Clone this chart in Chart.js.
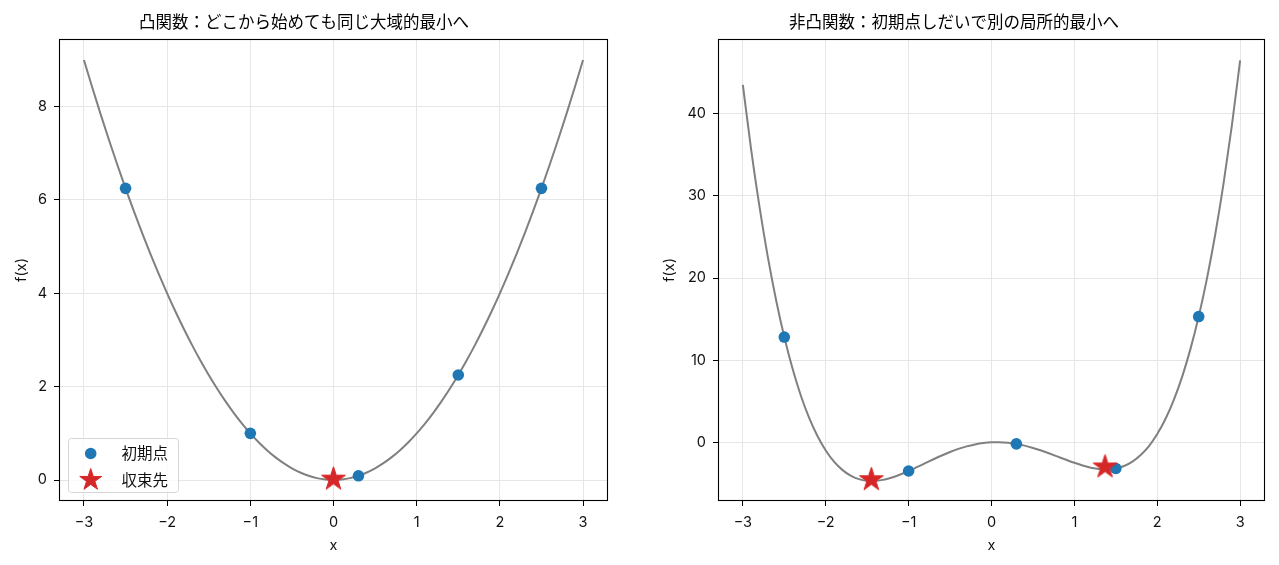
<!DOCTYPE html>
<html>
<head>
<meta charset="utf-8">
<script src="https://cdn.jsdelivr.net/npm/chart.js@4.4.1/dist/chart.umd.min.js"></script>
<style>
  html, body { margin: 0; padding: 0; background: #fff; }
  #wrap { position: relative; width: 1279px; height: 565px; overflow: hidden; }
  canvas { position: absolute; top: 0; }
  #c1 { left: 0; }
  #c2 { left: 640px; }
</style>
</head>
<body>
<div id="wrap">
  <canvas id="c1" width="640" height="565"></canvas>
  <canvas id="c2" width="639" height="565"></canvas>
</div>
<script>
// ---- data ----
const xGrid = [-3.0,-2.9,-2.8,-2.7,-2.6,-2.5,-2.4,-2.3,-2.2,-2.1,-2.0,-1.9,-1.8,-1.7,-1.6,-1.5,-1.4,-1.3,-1.2,-1.1,
  -1.0,-0.9,-0.8,-0.7,-0.6,-0.5,-0.4,-0.3,-0.2,-0.1,0.0,0.1,0.2,0.3,0.4,0.5,0.6,0.7,0.8,0.9,
  1.0,1.1,1.2,1.3,1.4,1.5,1.6,1.7,1.8,1.9,2.0,2.1,2.2,2.3,2.4,2.5,2.6,2.7,2.8,2.9,3.0];
const convexCurve = [9.00,8.41,7.84,7.29,6.76,6.25,5.76,5.29,4.84,4.41,4.00,3.61,3.24,2.89,2.56,2.25,1.96,1.69,1.44,1.21,
  1.00,0.81,0.64,0.49,0.36,0.25,0.16,0.09,0.04,0.01,0.00,0.01,0.04,0.09,0.16,0.25,0.36,0.49,0.64,0.81,
  1.00,1.21,1.44,1.69,1.96,2.25,2.56,2.89,3.24,3.61,4.00,4.41,4.84,5.29,5.76,6.25,6.76,7.29,7.84,8.41,9.00];
const nonconvexCurve = [43.50,35.64,28.71,22.63,17.36,12.81,8.94,5.67,2.97,0.76,-1.00,-2.36,-3.36,-4.06,-4.49,-4.69,-4.70,-4.55,-4.29,-3.93,
  -3.50,-3.03,-2.55,-2.07,-1.61,-1.19,-0.81,-0.50,-0.26,-0.09,0.00,0.01,-0.06,-0.20,-0.41,-0.69,-1.01,-1.37,-1.75,-2.13,
  -2.50,-2.83,-3.09,-3.25,-3.30,-3.19,-2.89,-2.36,-1.56,-0.46,1.00,2.86,5.17,7.97,11.34,15.31,19.96,25.33,31.51,38.54,46.50];

const convexStartX = [-2.5, -1.0, 0.3, 1.5, 2.5];
const convexStartY = [6.25, 1.00, 0.09, 2.25, 6.25];
const convexEndX = [0.0];
const convexEndY = [0.02];

const nonconvexStartX = [-2.5, -1.0, 0.3, 1.5, 2.5];
const nonconvexStartY = [12.81, -3.50, -0.20, -3.19, 15.31];
const nonconvexEndX = [-1.45, 1.37];
const nonconvexEndY = [-4.55, -3.00];

const xTicks = [-3, -2, -1, 0, 1, 2, 3];
const convexYTicks = [0, 2, 4, 6, 8];
const nonconvexYTicks = [0, 10, 20, 30, 40];

const titles = ['凸関数：どこから始めても同じ大域的最小へ', '非凸関数：初期点しだいで別の局所的最小へ'];
const legendLabels = ['初期点', '収束先'];
const xLabel = 'x';
const yLabel = 'f(x)';

// ---- styles ----
const FONT = '"Noto Sans CJK JP", "Noto Sans", sans-serif';
const TFONT = 'Inter, "Noto Sans", sans-serif';
const BLUE = '#1f77b4';
const RED = '#d62728';
const GRAY = '#808080';
const GRID = '#e6e6e6';

function drawStarPath(ctx, cx, cy, R) {
  const r = R * 0.381966;
  ctx.beginPath();
  for (let i = 0; i < 10; i++) {
    const rad = (i % 2 === 0) ? R : r;
    const a = -Math.PI / 2 + i * Math.PI / 5;
    const px = cx + rad * Math.cos(a), py = cy + rad * Math.sin(a);
    if (i === 0) ctx.moveTo(px, py); else ctx.lineTo(px, py);
  }
  ctx.closePath();
}
function makeStar(R) {
  const c = document.createElement('canvas');
  const s = Math.ceil(R * 2 + 4);
  c.width = s; c.height = s;
  const g = c.getContext('2d');
  drawStarPath(g, s / 2, s / 2, R);
  g.fillStyle = RED; g.fill();
  g.lineWidth = 1; g.strokeStyle = RED; g.stroke();
  return c;
}
const starImg = makeStar(12.5);

const pts = (xs, ys) => xs.map((x, i) => ({ x: x, y: ys[i] }));
const tickFmt = v => String(v).replace('-', '\u2212');

const spinePlugin = {
  id: 'spines',
  afterDraw(chart) {
    const { ctx, chartArea: a } = chart;
    ctx.save();
    ctx.strokeStyle = '#000';
    ctx.lineWidth = 1.1;
    ctx.strokeRect(Math.round(a.left) + 0.5, Math.round(a.top) + 0.5,
      Math.round(a.right) - Math.round(a.left) - 1, Math.round(a.bottom) - Math.round(a.top) - 1);
    ctx.restore();
  }
};

const innerLegendPlugin = {
  id: 'innerLegend',
  afterDraw(chart, args, opts) {
    if (!opts || !opts.show) return;
    const { ctx, chartArea: a } = chart;
    const x0 = a.left + 9, y1 = a.bottom - 9;
    const w = 110, h = 54, y0 = y1 - h;
    ctx.save();
    ctx.beginPath();
    if (ctx.roundRect) ctx.roundRect(x0 + 0.5, y0 + 0.5, w, h, 3); else ctx.rect(x0 + 0.5, y0 + 0.5, w, h);
    ctx.fillStyle = 'rgba(255,255,255,0.8)';
    ctx.fill();
    ctx.strokeStyle = '#d6d6d6';
    ctx.lineWidth = 1;
    ctx.stroke();
    const mx = x0 + 22.7;
    ctx.beginPath();
    ctx.arc(mx, y0 + 15.5, 5.8, 0, Math.PI * 2);
    ctx.fillStyle = BLUE; ctx.fill();
    drawStarPath(ctx, mx, y0 + 42, 11.5);
    ctx.fillStyle = RED; ctx.fill();
    ctx.strokeStyle = RED; ctx.lineWidth = 1; ctx.stroke();
    ctx.fillStyle = '#111';
    ctx.font = '15.5px ' + FONT;
    ctx.textBaseline = 'middle';
    ctx.textAlign = 'left';
    ctx.fillText(legendLabels[0], x0 + 53.5, y0 + 15.5);
    ctx.fillText(legendLabels[1], x0 + 53.5, y0 + 42);
    ctx.restore();
  }
};

function makeChart(canvasId, o) {
  return new Chart(document.getElementById(canvasId), {
    type: 'scatter',
    data: {
      datasets: [
        { label: legendLabels[1], data: pts(o.endX, o.endY), pointStyle: starImg, pointRadius: 13,
          backgroundColor: RED, borderColor: RED, showLine: false },
        { label: legendLabels[0], data: pts(o.startX, o.startY), pointStyle: 'circle', pointRadius: 5.8,
          backgroundColor: BLUE, borderColor: BLUE, borderWidth: 0, showLine: false },
        { label: 'f', data: pts(xGrid, o.curve), showLine: true, pointRadius: 0, borderColor: GRAY,
          borderWidth: 2, cubicInterpolationMode: 'monotone', fill: false }
      ]
    },
    options: {
      responsive: false,
      animation: false,
      events: [],
      layout: { padding: { left: 0, right: o.padRight, top: 0, bottom: 0 } },
      plugins: {
        legend: { display: false },
        tooltip: { enabled: false },
        title: {
          display: true, text: o.title, color: '#000',
          font: { family: FONT, size: 16.5, weight: 'normal', lineHeight: 1.2 },
          padding: { top: 12, bottom: 7.2 }
        },
        innerLegend: { show: o.legend }
      },
      scales: {
        x: {
          type: 'linear', min: -3.3, max: 3.3,
          afterFit: s => { s.height = 64; },
          afterBuildTicks: s => { s.ticks = xTicks.map(v => ({ value: v })); },
          ticks: { includeBounds: false, autoSkip: false, maxRotation: 0, padding: 8, color: '#111',
            font: { family: TFONT, size: 14.5 }, callback: tickFmt },
          grid: { color: GRID, lineWidth: 1, tickColor: '#000', tickLength: 5, tickWidth: 1 },
          border: { display: false },
          title: { display: true, text: xLabel, color: '#111', font: { family: TFONT, size: 14.5, lineHeight: 1.2 },
            padding: { top: 0, bottom: 10.3 } }
        },
        y: {
          type: 'linear', min: o.yMin, max: o.yMax,
          afterFit: s => { s.width = o.yWidth; },
          afterBuildTicks: s => { s.ticks = o.yTicks.map(v => ({ value: v })); },
          ticks: { includeBounds: false, autoSkip: false, padding: 7, color: '#111',
            font: { family: TFONT, size: 14.5 }, callback: tickFmt },
          grid: { color: GRID, lineWidth: 1, tickColor: '#000', tickLength: 5, tickWidth: 1 },
          border: { display: false },
          title: { display: true, text: yLabel, color: '#111', font: { family: TFONT, size: 14.5, lineHeight: 1.2 },
            padding: { top: o.yTitlePad, bottom: 0 } }
        }
      }
    },
    plugins: [spinePlugin, innerLegendPlugin]
  });
}

makeChart('c1', {
  title: titles[0], curve: convexCurve,
  startX: convexStartX, startY: convexStartY, endX: convexEndX, endY: convexEndY,
  yMin: -0.45, yMax: 9.45, yTicks: convexYTicks, yWidth: 59, yTitlePad: 12.8, padRight: 32, legend: true
});
makeChart('c2', {
  title: titles[1], curve: nonconvexCurve,
  startX: nonconvexStartX, startY: nonconvexStartY, endX: nonconvexEndX, endY: nonconvexEndY,
  yMin: -7.15, yMax: 49.1, yTicks: nonconvexYTicks, yWidth: 78, yTitlePad: 21, padRight: 11, legend: false
});
</script>
</body>
</html>
